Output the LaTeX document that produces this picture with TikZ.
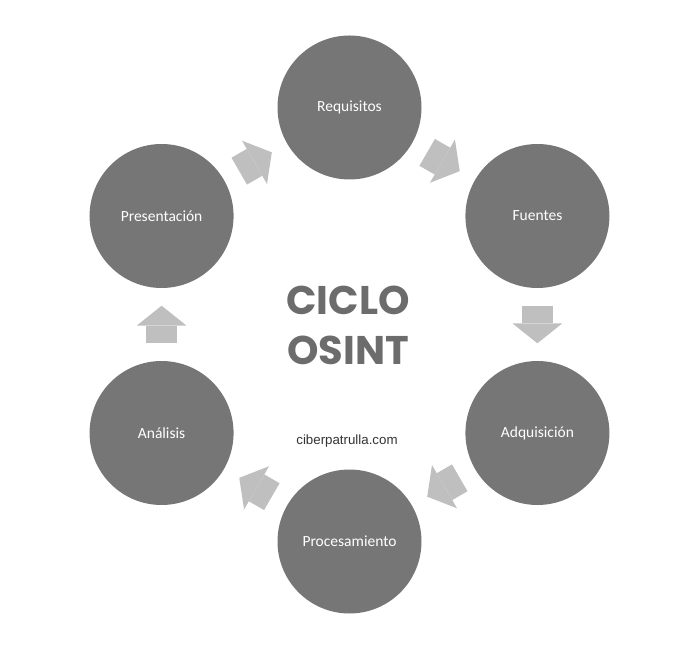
\documentclass[tikz,border=0pt]{standalone}
\usepackage{fontspec}
\setmainfont{Carlito}
\newfontfamily\titlefont{Poppins}
\newfontfamily\urlfont{Liberation Sans}
\usetikzlibrary{arrows.meta,positioning}
\definecolor{cyclegray}{RGB}{118,118,118}
\definecolor{arrowgray}{RGB}{191,191,191}
\definecolor{titlegray}{RGB}{108,108,108}

\begin{document}
\begin{tikzpicture}[
    stage/.style={circle,fill=cyclegray,minimum size=144pt,inner sep=0pt,text=white,font=\fontsize{15.5}{18}\selectfont},
    cyclearrow/.style={draw=arrowgray,line width=31pt,shorten <=17.5pt,shorten >=17.5pt,
      -{Triangle[width=50pt,length=20pt,line width=0pt 0]}}
  ]
    \useasboundingbox (-349.5pt,-319.5pt) rectangle (350.5pt,324.5pt);

    \node[stage] (req) at (90:217pt) {Requisitos};
    \node[stage] (fue) at (30:217pt) {Fuentes};
    \node[stage] (adq) at (-30:217pt) {Adquisición};
    \node[stage] (pro) at (-90:217pt) {Procesamiento};
    \node[stage] (ana) at (-150:217pt) {Análisis};
    \node[stage] (pre) at (150:217pt) {Presentación};

    \node[align=center,text=titlegray,font=\titlefont\bfseries\fontsize{40}{50}\selectfont] (title) at (-1.5pt,-0.5pt) {CICLO\\OSINT};
    \node[font=\urlfont\fontsize{13.3}{16}\selectfont,text=black!80] (web) at (-2.5pt,-116.5pt) {ciberpatrulla.com};

    \draw[cyclearrow] (req) -- (fue);
    \draw[cyclearrow] (fue) -- (adq);
    \draw[cyclearrow] (adq) -- (pro);
    \draw[cyclearrow] (pro) -- (ana);
    \draw[cyclearrow] (ana) -- (pre);
    \draw[cyclearrow] (pre) -- (req);
\end{tikzpicture}
\end{document}
